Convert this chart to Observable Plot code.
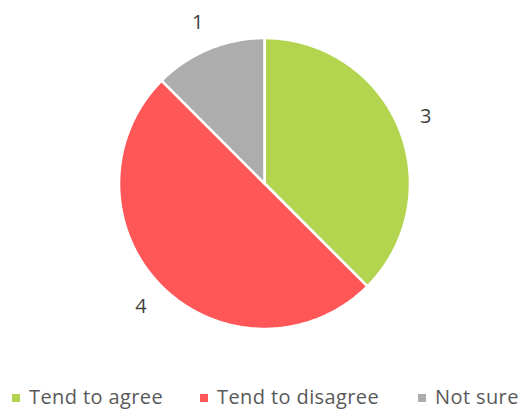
<!DOCTYPE html>
<html>
<head>
<meta charset="utf-8">
<script src="https://cdn.jsdelivr.net/npm/d3@7"></script>
<script src="https://cdn.jsdelivr.net/npm/@observablehq/plot@0.6"></script>
<style>
  html, body { margin: 0; padding: 0; background: #fff; overflow: hidden; }
  #chart { width: 528px; height: 412px; position: relative; }
  .legend { position: absolute; left: 0; top: 386px; font-family: "Open Sans", sans-serif; font-size: 20px; letter-spacing: 0.4px; color: #595959; white-space: nowrap; }
  .legend .item { display: flex; align-items: center; line-height: 22px; }
  .legend .sw { width: 8px; height: 8px; margin-right: 9px; margin-top: 2px; }
</style>
</head>
<body>
<div id="chart"></div>
<script>
const categories = ["Tend to agree", "Tend to disagree", "Not sure"];
const values = [3, 4, 1];
const colors = ["#b2d44e", "#ff5757", "#adadad"];

const W = 528, H = 385;
const arcs = d3.pie().sort(null).value((d, i) => values[i])(categories);

const pts = [];
arcs.forEach((a, i) => {
  const cat = categories[i];
  pts.push({cat, x: 0, y: 0});
  const n = Math.max(2, Math.ceil((a.endAngle - a.startAngle) / (Math.PI / 180)));
  for (let k = 0; k <= n; k++) {
    const t = a.startAngle + (a.endAngle - a.startAngle) * k / n;
    pts.push({cat, x: Math.sin(t), y: Math.cos(t)});
  }
  pts.push({cat, x: 0, y: 0});
});

const labels = arcs.map((a, i) => {
  const m = (a.startAngle + a.endAngle) / 2;
  return {label: String(values[i]), x: 1.2 * Math.sin(m), y: 1.2 * Math.cos(m)};
});

const R = 145.5;
const cx = 264, cy = 183;
const plot = Plot.plot({
  width: W,
  height: H,
  marginLeft: cx - R,
  marginRight: W - cx - R,
  marginTop: cy - R,
  marginBottom: H - cy - R,
  x: {domain: [-1, 1], axis: null},
  y: {domain: [-1, 1], axis: null},
  color: {domain: categories, range: colors},
  style: {background: "transparent", overflow: "visible"},
  marks: [
    ...categories.map(c => Plot.line(pts.filter(p => p.cat === c), {
      x: "x", y: "y", fill: colors[categories.indexOf(c)], stroke: "white", strokeWidth: 2.6, strokeLinejoin: "round"
    })),
    Plot.text(labels, {x: "x", y: "y", text: "label", fontSize: 20, fill: "#404040", fontFamily: "'Open Sans', sans-serif"})
  ]
});
const chart = document.getElementById("chart");
chart.appendChild(plot);

const legend = document.createElement("div");
legend.className = "legend";
const lefts = [12, 200, 418];
categories.forEach((c, i) => {
  const it = document.createElement("div");
  it.className = "item";
  it.style.position = "absolute";
  it.style.left = lefts[i] + "px";
  const sw = document.createElement("span");
  sw.className = "sw";
  sw.style.background = colors[i];
  const tx = document.createElement("span");
  tx.textContent = c;
  it.appendChild(sw);
  it.appendChild(tx);
  legend.appendChild(it);
});
chart.appendChild(legend);
</script>
</body>
</html>
